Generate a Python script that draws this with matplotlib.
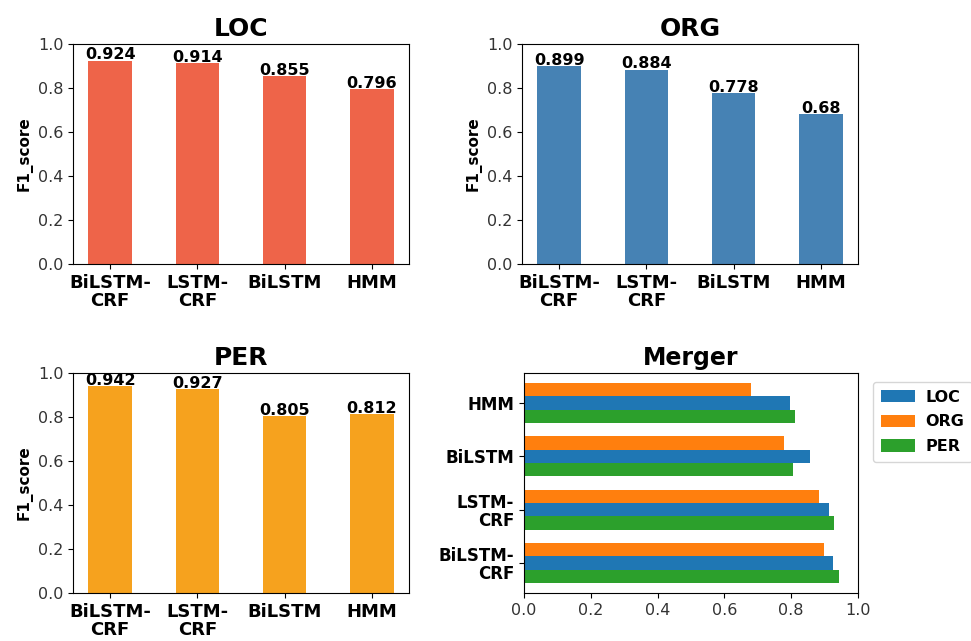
import numpy as np
import matplotlib
matplotlib.use("Agg")
import matplotlib.pyplot as plt

# F1 scores per entity type for each model
models = ["BiLSTM-\nCRF", "LSTM-\nCRF", "BiLSTM", "HMM"]
loc_f1 = [0.924, 0.914, 0.855, 0.796]
org_f1 = [0.899, 0.884, 0.778, 0.68]
per_f1 = [0.942, 0.927, 0.805, 0.812]

W, H = 971, 641
fig = plt.figure(figsize=(W / 100, H / 100), dpi=100)


def px_axes(x0, y0, x1, y1):
    # axes box given in pixel coords (top-left origin)
    return fig.add_axes([x0 / W, 1 - y1 / H, (x1 - x0) / W, (y1 - y0) / H])


def bar_panel(ax, values, color, title):
    x = np.arange(len(models))
    ax.bar(x, values, width=0.5, color=color)
    for xi, v in zip(x, values):
        ax.text(xi, v - 0.008, f"{v:g}", ha="center", va="bottom",
                fontsize=11.5, fontweight="bold")
    ax.set_ylim(0, 1.0)
    ax.set_xticks(x)
    ax.set_xticklabels(models, fontsize=13, fontweight="bold", linespacing=1.0)
    ax.tick_params(axis="y", labelsize=11.5, labelcolor="#333333")
    ax.set_ylabel("F1_score", fontsize=11, fontweight="bold")
    ax.set_title(title, fontsize=18, fontweight="bold", pad=6)


ax_loc = px_axes(73, 44, 409, 264)
bar_panel(ax_loc, loc_f1, "#EE6449", "LOC")

ax_org = px_axes(522, 44, 858, 264)
bar_panel(ax_org, org_f1, "#4682B4", "ORG")

ax_per = px_axes(73, 373, 409, 593)
bar_panel(ax_per, per_f1, "#F6A21E", "PER")

# merged horizontal comparison
ax_m = px_axes(524, 373, 858, 593)
y = np.arange(len(models))
h = 0.25
ax_m.barh(y, loc_f1, height=h, color="tab:blue", label="LOC")
ax_m.barh(y + h, org_f1, height=h, color="tab:orange", label="ORG")
ax_m.barh(y - h, per_f1, height=h, color="tab:green", label="PER")
ax_m.set_xlim(0, 1.0)
ax_m.set_yticks(y)
ax_m.set_yticklabels(models, fontsize=12, fontweight="bold", linespacing=1.0)
ax_m.tick_params(axis="x", labelsize=11.5, labelcolor="#333333")
ax_m.set_title("Merger", fontsize=17, fontweight="bold", pad=6)
ax_m.legend(loc="upper left", bbox_to_anchor=(1.045, 0.96), borderaxespad=0,
            prop={"size": 11.5, "weight": "bold"}, handlelength=2.1,
            handleheight=0.8, handletextpad=0.7, borderpad=0.5,
            labelspacing=0.6)

fig.savefig("out.png", dpi=100)
